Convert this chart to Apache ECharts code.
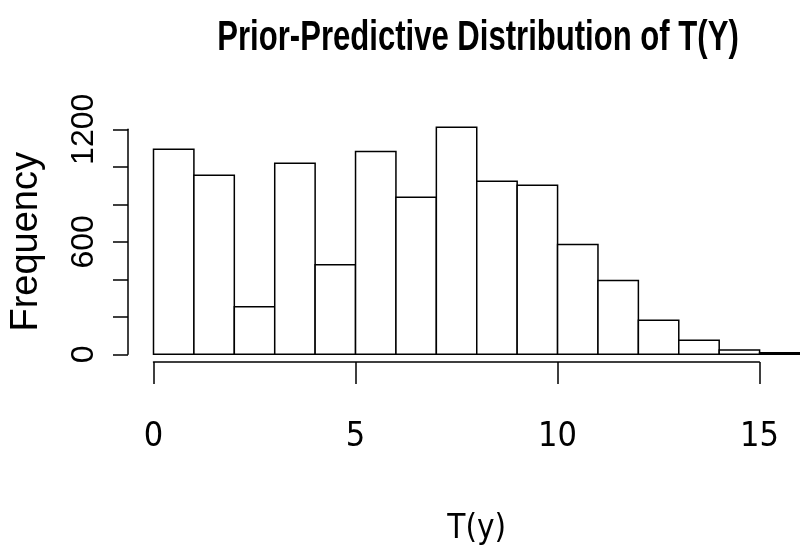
<!DOCTYPE html>
<html>
<head>
<meta charset="utf-8">
<script src="https://cdn.jsdelivr.net/npm/echarts@6/dist/echarts.min.js"></script>
<style>
  html, body { margin: 0; padding: 0; background: #fff; }
  #chart { width: 800px; height: 555px; }
</style>
</head>
<body>
<div id="chart"></div>
<script>
// histogram bins: left edges and counts (bin width 1)
const binStarts = [0, 1, 2, 3, 4, 5, 6, 7, 8, 9, 10, 11, 12, 13, 14, 15];
const binCounts = [1093, 955, 254, 1019, 478, 1081, 837, 1211, 923, 901, 585, 393, 181, 75, 23, 8];
const binWidth = 1;
const yLabelTicks = [0, 600, 1200];
const titleText = "Prior-Predictive Distribution of T(Y)";

const narrow = "'DejaVu Sans Condensed', 'Liberation Sans', sans-serif";
const plain = "'Liberation Sans', Arial, Helvetica, sans-serif";

const chart = echarts.init(document.getElementById("chart"));

chart.setOption({
  animation: false,
  backgroundColor: "#fff",
  // title drawn as graphic text so it can be squeezed like R's narrow bold font
  graphic: [
    {
      type: "text",
      x: 478,
      y: 38,
      scaleX: 0.74,
      style: {
        text: titleText,
        align: "center",
        verticalAlign: "middle",
        font: "bold 42px " + plain,
        fill: "#000",
      },
    },
  ],
  grid: [
    // plotting region
    { left: 153.5, right: 0, top: 129.3, bottom: 200.7, outerBoundsMode: "none" },
    // region only used for R-style x axis (0..15)
    { left: 153.5, width: 605.9, top: 129.3, bottom: 193, outerBoundsMode: "none" },
  ],
  xAxis: [
    {
      gridIndex: 0,
      type: "value",
      min: 0,
      max: 16,
      axisLine: { show: false, onZero: false },
      axisTick: { show: false },
      axisLabel: { show: false },
      splitLine: { show: false },
      name: "T(y)",
      nameLocation: "middle",
      nameGap: 159,
      nameTextStyle: { fontFamily: narrow, fontSize: 33, color: "#000" },
    },
    {
      gridIndex: 1,
      type: "value",
      min: 0,
      max: 15,
      interval: 5,
      axisLine: { onZero: false, lineStyle: { color: "#000", width: 1.5 } },
      axisTick: { length: 22, lineStyle: { color: "#000", width: 1.5 } },
      axisLabel: {
        margin: 58,
        fontFamily: narrow,
        fontSize: 34,
        color: "#000",
      },
      splitLine: { show: false },
    },
  ],
  yAxis: [
    {
      gridIndex: 0,
      type: "value",
      min: 0,
      max: 1200,
      interval: 200,
      offset: 25.5,
      axisLine: { show: true, onZero: false, lineStyle: { color: "#000", width: 1.5 } },
      axisTick: { show: true, length: 15, lineStyle: { color: "#000", width: 1.5 } },
      axisLabel: {
        rotate: 90,
        margin: 28,
        fontFamily: plain,
        fontSize: 32,
        color: "#000",
        formatter: (v) => (yLabelTicks.indexOf(v) >= 0 ? String(v) : ""),
      },
      splitLine: { show: false },
      name: "Frequency",
      nameLocation: "middle",
      nameRotate: 90,
      nameGap: 82,
      nameTextStyle: { fontFamily: plain, fontSize: 38, color: "#000" },
    },
    {
      gridIndex: 1,
      type: "value",
      min: 0,
      max: 1,
      show: false,
    },
  ],
  series: [
    {
      type: "custom",
      xAxisIndex: 0,
      yAxisIndex: 0,
      clip: false,
      data: binStarts.map((s, i) => [s, binCounts[i]]),
      renderItem: (params, api) => {
        const x0 = api.value(0);
        const p0 = api.coord([x0, 0]);
        const p1 = api.coord([x0 + binWidth, api.value(1)]);
        return {
          type: "rect",
          shape: { x: p0[0], y: p1[1], width: p1[0] - p0[0], height: p0[1] - p1[1] },
          style: { fill: "#fff", stroke: "#000", lineWidth: 1.5 },
        };
      },
    },
  ],
});
</script>
</body>
</html>
